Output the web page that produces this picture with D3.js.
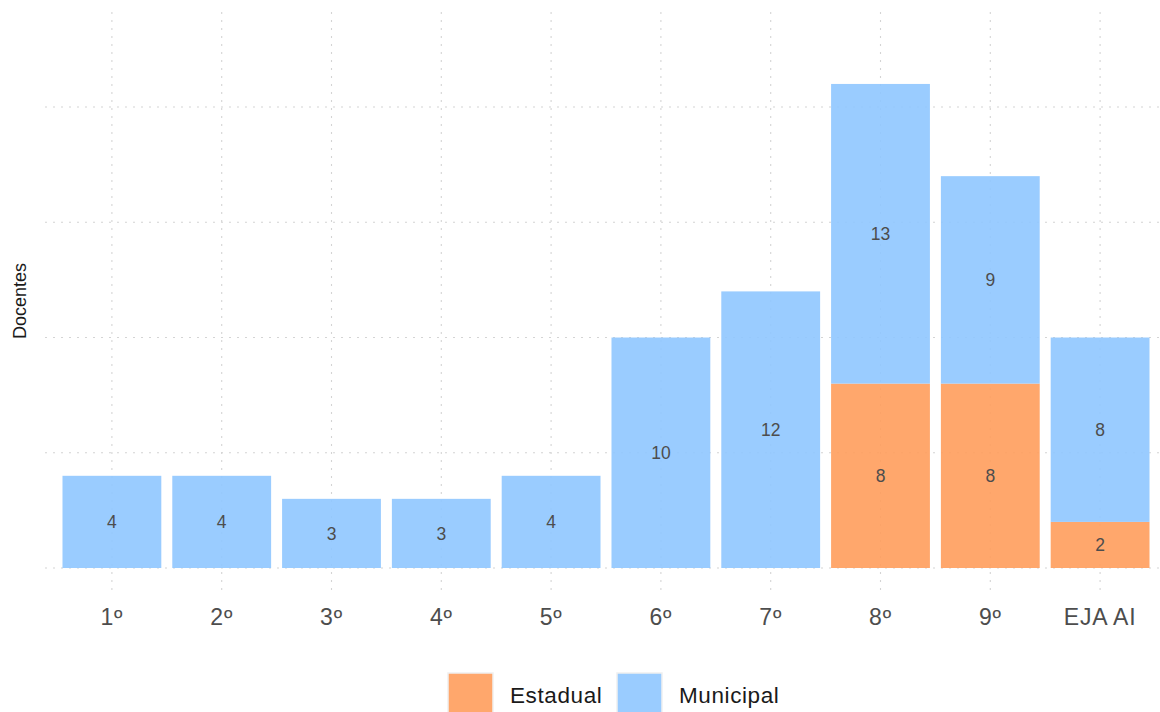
<!DOCTYPE html>
<html><head><meta charset="utf-8">
<script src="https://cdn.jsdelivr.net/npm/d3@7"></script>
<style>body{margin:0;background:#fff;font-family:"Liberation Sans",Arial,sans-serif;}</style>
</head><body><svg id="c" width="1160" height="712"></svg>
<script>
const categories = ["1º","2º","3º","4º","5º","6º","7º","8º","9º","EJA AI"];
const estadual  = [0,0,0,0,0,0,0,8,8,2];
const municipal = [4,4,3,3,4,10,12,13,9,8];
const seriesNames = ["Estadual","Municipal"];
const yTicks = [0,5,10,15,20];

const colors = {Estadual:"#ff9d5c", Municipal:"#8fc7ff"};
const svg = d3.select("#c");
const panel = {left:45, right:1160, top:12, bottom:595};

const x = d3.scaleBand().domain(categories).range([57,1155]).paddingInner(0.1).paddingOuter(0.05);
const y = d3.scaleLinear().domain([0,20]).range([568,107]);

// grid
const g = svg.append("g");
g.selectAll("line.h").data(yTicks).join("line")
  .attr("x1",panel.left).attr("x2",panel.right)
  .attr("y1",d=>y(d)).attr("y2",d=>y(d))
  .attr("stroke","#d4d4d4").attr("stroke-width",1.1).attr("stroke-dasharray","2,6");
g.selectAll("line.v").data(categories).join("line")
  .attr("x1",d=>x(d)+x.bandwidth()/2).attr("x2",d=>x(d)+x.bandwidth()/2)
  .attr("y1",panel.top).attr("y2",panel.bottom)
  .attr("stroke","#d4d4d4").attr("stroke-width",1.1).attr("stroke-dasharray","2,6");

// stacked data
const rows = categories.map((c,i)=>({cat:c, Estadual:estadual[i], Municipal:municipal[i]}));
const stack = d3.stack().keys(seriesNames)(rows);

stack.forEach(layer=>{
  const key = layer.key;
  svg.append("g").selectAll("rect").data(layer.filter(d=>d[1]-d[0]>0)).join("rect")
    .attr("x",d=>x(d.data.cat)).attr("width",x.bandwidth())
    .attr("y",d=>y(d[1])).attr("height",d=>y(d[0])-y(d[1]))
    .attr("fill",colors[key]).attr("fill-opacity",0.9);
});
stack.forEach(layer=>{
  svg.append("g").selectAll("text").data(layer.filter(d=>d[1]-d[0]>0)).join("text")
    .attr("x",d=>x(d.data.cat)+x.bandwidth()/2)
    .attr("y",d=>(y(d[0])+y(d[1]))/2)
    .attr("dy","0.36em").attr("text-anchor","middle")
    .attr("font-size",17.5).attr("fill","#4d4d4d")
    .text(d=>d[1]-d[0]);
});

// x axis labels
const xAxis = d3.axisBottom(x).tickSize(0).tickPadding(0);
const ax = svg.append("g").attr("transform","translate(0,609)").call(xAxis);
ax.select(".domain").remove();
ax.selectAll("text").attr("font-size",23).attr("fill","#4d4d4d")
  .attr("letter-spacing","0.8px")
  .attr("font-family","Liberation Sans, Arial, sans-serif");

// y title
svg.append("text").attr("transform","translate(26,301) rotate(-90)")
  .attr("text-anchor","middle").attr("font-size",18).attr("fill","#1a1a1a").text("Docentes");

// legend
const legX = [448,617];
const lg = svg.append("g").selectAll("g").data(seriesNames).join("g")
  .attr("transform",(d,i)=>`translate(${legX[i]},673)`);
lg.append("rect").attr("width",45).attr("height",45)
  .attr("fill",d=>colors[d]).attr("fill-opacity",0.9)
  .attr("stroke","#f0f0f0").attr("stroke-width",1.5);
lg.append("text").attr("x",62).attr("y",30).attr("font-size",22.5).attr("letter-spacing","0.6px")
  .attr("fill","#1a1a1a").text(d=>d);
</script></body></html>
